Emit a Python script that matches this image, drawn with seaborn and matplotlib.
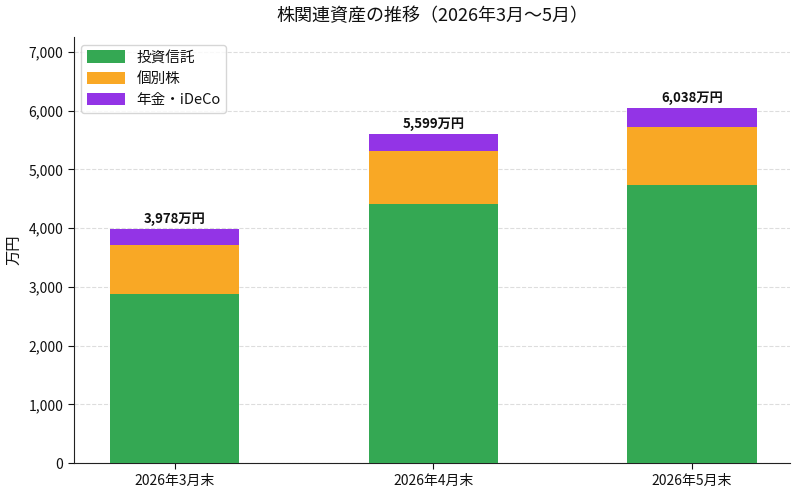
import matplotlib
matplotlib.use('Agg')
import matplotlib.pyplot as plt
import seaborn as sns
import numpy as np
from matplotlib.ticker import FuncFormatter

# data (万円)
months = ['2026年3月末', '2026年4月末', '2026年5月末']
toushin = [2885, 4417, 4735]
kobetsu = [832, 888, 990]
nenkin = [261, 294, 313]
series_names = ['投資信託', '個別株', '年金・iDeCo']
colors = ['#34a853', '#f9a825', '#9334e6']

sns.set_style('white')
plt.rcParams['font.family'] = ['Noto Sans CJK JP', 'DejaVu Sans']
plt.rcParams['text.color'] = '#111111'
plt.rcParams['axes.labelcolor'] = '#111111'
plt.rcParams['xtick.color'] = '#111111'
plt.rcParams['ytick.color'] = '#111111'

fig, ax = plt.subplots(figsize=(8, 4.98), dpi=100)

lvl1 = np.array(toushin)
lvl2 = lvl1 + np.array(kobetsu)
lvl3 = lvl2 + np.array(nenkin)

# draw the stacks from the top down so each layer covers the one below
for vals, name, c in [(lvl3, series_names[2], colors[2]),
                      (lvl2, series_names[1], colors[1]),
                      (lvl1, series_names[0], colors[0])]:
    sns.barplot(x=months, y=vals, color=c, width=0.5, label=name,
                saturation=1, linewidth=0, ax=ax, zorder=3)

for i, tot in enumerate(lvl3):
    ax.text(i, tot + 60, f'{tot:,}万円', ha='center', va='bottom',
            fontsize=9.5, fontweight='bold')

ax.set_ylim(0, lvl3.max() * 1.2)
ax.set_xlim(-0.39, 2.38)
ax.yaxis.set_major_formatter(FuncFormatter(lambda v, p: f'{int(v):,}'))
ax.set_ylabel('万円', fontsize=11)
ax.set_xlabel('')
ax.set_title('株関連資産の推移（2026年3月～5月）', fontsize=13, pad=12)
ax.grid(axis='y', linestyle='--', color='#dddddd', linewidth=0.8, zorder=0)
ax.tick_params(axis='both', labelsize=10, length=4, left=True, bottom=True)
for s in ax.spines.values():
    s.set_color('#222222')
sns.despine(ax=ax)

h, l = ax.get_legend_handles_labels()
order = [l.index(n) for n in series_names]
ax.legend([h[k] for k in order], series_names, loc='upper left', fontsize=10.5,
          handlelength=2.6, handleheight=0.9)

fig.subplots_adjust(left=0.092, right=0.988, top=0.925, bottom=0.07)
fig.savefig('out.png', dpi=100)
